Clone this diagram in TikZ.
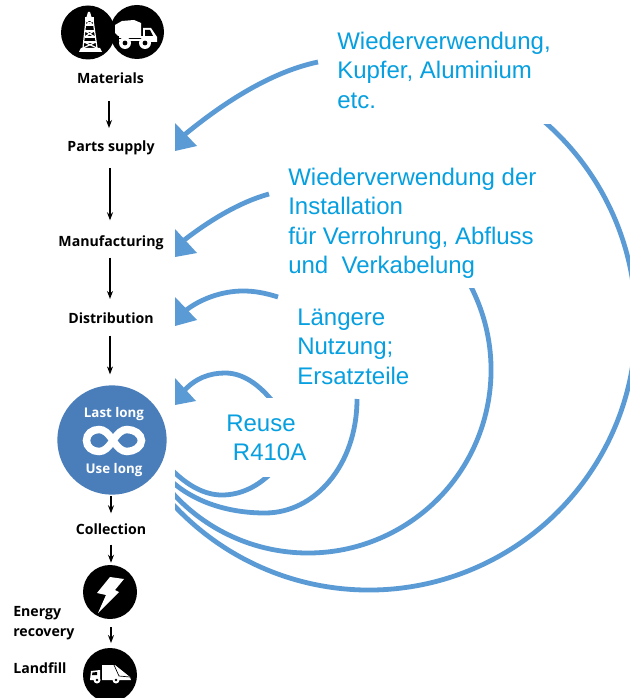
\documentclass[tikz,border=0pt]{standalone}
\usepackage{fontspec}
\setmainfont{Liberation Sans}
\newfontfamily\lab{Open Sans}
\usetikzlibrary{arrows.meta}
\definecolor{arcblue}{HTML}{5B9BD5}
\definecolor{txtblue}{HTML}{069FE0}
\definecolor{discblue}{HTML}{4A7EBB}
\tikzset{
 x=0.75pt,y=-0.75pt,
 step label/.style={font=\lab\bfseries\fontsize{10.6}{15}\selectfont,text=black,inner sep=0pt,align=left},
 disc label/.style={font=\lab\bfseries\fontsize{10}{12}\selectfont,text=white,inner sep=0pt},
 flowarrow/.style={draw=black,line width=0.9pt,-{Stealth[length=6pt,width=4.5pt]}},
 bluetext/.style={font=\fontsize{18}{21.9}\selectfont,text=txtblue,inner sep=0pt,align=left,anchor=north west},
 arcline/.style={draw=arcblue,line width=3.6pt},
 arrowtip/.style={fill=arcblue},
 discblack/.style={fill=black},
}
\begin{document}
\begin{tikzpicture}
\useasboundingbox (0,0) rectangle (630,698);
\fill[white] (0,0) rectangle (630,698);
% blue return arcs
\begin{scope}
\clip (175,0) rectangle (630,698);
\coordinate (a1s) at (318,62);
\coordinate (a1e) at (183,136);
\draw[arcline] (a1s) .. controls (280,70) and (235,93) .. (a1e);
\coordinate (a2s) at (269,194);
\coordinate (a2e) at (183,241);
\draw[arcline] (a2s) .. controls (240,202) and (210,220) .. (a2e);
\coordinate (a3s) at (278,297);
\coordinate (a3m) at (243,291);
\coordinate (a3e) at (185,311);
\draw[arcline] (a3s) .. controls (265,293) and (255,291) .. (a3m)
  .. controls (222,291) and (200,299) .. (a3e);
\coordinate (a4s) at (274,403);
\coordinate (a4m) at (225,373);
\coordinate (a4e) at (183,392);
\draw[arcline] (a4s) .. controls (258,383) and (242,373) .. (a4m)
  .. controls (210,373) and (195,378) .. (a4e);
\coordinate (b1s) at (540.6,118.5);
\draw[arcline] (b1s) arc[start angle=50,end angle=-142,radius=200.25pt];
\coordinate (b2s) at (466.5,278.5);
\draw[arcline] (b2s) arc[start angle=30,end angle=-142,radius=137.25pt];
\coordinate (b3s) at (357,399);
\coordinate (b3m) at (265,513);
\coordinate (b3e) at (170,480);
\draw[arcline] (b3s) .. controls (357,465) and (315,513) .. (b3m)
  .. controls (230,513) and (195,503) .. (b3e);
\coordinate (b4s) at (273,471);
\coordinate (b4m) at (222,495);
\coordinate (b4e) at (172,470);
\draw[arcline] (b4s) .. controls (258,487) and (240,495) .. (b4m)
  .. controls (205,495) and (188,486) .. (b4e);
\end{scope}
% square cuts at the ends of the arcs
\fill[white] (500,100) rectangle (560,124);
\fill[white] (440,265) rectangle (490,288);
\fill[white] (250,397.5) rectangle (290,415);
\fill[white] (255,460) rectangle (290,476.5);
% arrow heads
\fill[arrowtip] (175,123) -- (197,146) -- (175,151) -- cycle;
\fill[arrowtip] (175,229) -- (197,253) -- (175,257) -- cycle;
\fill[arrowtip] (175,297) -- (197,320) -- (175,326) -- cycle;
\fill[arrowtip] (175,378) -- (196,401) -- (175,405) -- cycle;
% blue texts
\node[bluetext] (t1) at (337,32) {Wiederverwendung,\\Kupfer, Aluminium\\etc.};
\node[bluetext] (t2) at (288,168) {Wiederverwendung der\\Installation\\für Verrohrung, Abfluss\\und\ \ Verkabelung};
\node[bluetext] (t3) at (297,309) {Längere\\Nutzung;\\Ersatzteile};
\node[bluetext] (t4) at (226,415) {Reuse\\\ R410A};
% left chain
\node[step label] (materials) at (110.5,78) {Materials};
\node[step label] (parts) at (111,148) {Parts supply};
\node[step label] (manu) at (111,243) {Manufacturing};
\node[step label] (distr) at (111,318) {Distribution};
\node[circle,fill=discblue,minimum size=82pt,inner sep=0pt] (use) at (112,440) {};
\node[disc label] (last) at (114,414.5) {Last long};
\node[disc label] (uselong) at (114,470) {Use long};
\draw[white,line width=5.6pt] (113,440.5) .. controls (108,433) and (104,429.5) .. (99,429.5)
  .. controls (92,429.5) and (86.5,434) .. (86.5,440.5)
  .. controls (86.5,447) and (92,451.5) .. (99,451.5)
  .. controls (104,451.5) and (108,448) .. (113,440.5)
  .. controls (118,433) and (122,429.5) .. (127,429.5)
  .. controls (134,429.5) and (141.5,434) .. (141.5,440.5)
  .. controls (141.5,447) and (134,451.5) .. (127,451.5)
  .. controls (122,451.5) and (118,448) .. (113,440.5) -- cycle;
\node[step label] (coll) at (111,529) {Collection};
\node[circle,discblack,minimum size=40.5pt,inner sep=0pt] (energy) at (110,592) {};
\node[circle,discblack,minimum size=40.5pt,inner sep=0pt] (land) at (110,675) {};
\node[step label,anchor=west] (enlab) at (13,623) {Energy\\recovery};
\node[step label,anchor=west] (lflab) at (13,668) {Landfill};
% flow arrows
\draw[flowarrow,shorten <=13pt,shorten >=9.5pt] (materials.south -| 109,0) -- (parts.north -| 109,0);
\draw[flowarrow,shorten <=9.5pt,shorten >=11.5pt] (parts.south -| 110,0) -- (manu.north -| 110,0);
\draw[flowarrow,shorten <=5.5pt,shorten >=10pt] (manu.south -| 110,0) -- (distr.north -| 110,0);
\draw[flowarrow,shorten <=9pt,shorten >=8pt] (distr.south -| 110,0) -- (use.north -| 110,0);
\draw[flowarrow,shorten <=1pt,shorten >=7.5pt] (use.south -| 111,0) -- (coll.north -| 111,0);
\draw[flowarrow,shorten <=7.5pt,shorten >=1.5pt] (coll.south -| 111,0) -- (energy.north -| 111,0);
\draw[flowarrow,shorten <=6pt,shorten >=3.5pt] (energy.south -| 111,0) -- (land.north -| 111,0);
% raw material discs
\node[circle,discblack,minimum size=40.5pt,inner sep=0pt] (rig) at (88,32.5) {};
\node[circle,discblack,minimum size=40.5pt,inner sep=0pt] (mine) at (137,32) {};
% derrick
\begin{scope}[white,line width=0.9pt]
\fill (79,52) -- (81,48) -- (100,48) -- (102,52) -- cycle;
\draw (83,48) -- (86,20) -- (93,20) -- (97,48);
\fill (85,17) rectangle (94,21);
\fill (88,12) -- (90,12) -- (91.5,17) -- (86.5,17) -- cycle;
\draw (85.5,25) -- (93.5,25) (85,31) -- (94,31) (84.5,37) -- (95,37) (84,42) -- (96,42);
\draw (86,21) -- (93.5,25) (93,21) -- (85.5,25) (85,31) -- (95,37) (94,31) -- (84.5,37) (84,42) -- (97,48) (96,42) -- (83,48);
\end{scope}
% dump truck
\fill[white] (115,25) -- (122,21) -- (134,20) -- (141,23) -- (141,36) -- (118,36) -- (115,33) -- cycle;
\fill[white] (143,28) -- (151,28) -- (157,37) -- (157,42) -- (143,42) -- cycle;
\fill[white] (119,36) rectangle (145,41);
\fill[black] (145,30) -- (150,30) -- (153,36) -- (145,36) -- cycle;
\fill[black] (117,38) rectangle (142,39);
\fill[white] (125,43) circle (6);
\fill[white] (145,43) circle (6);
\fill[black] (125,43) circle (2.4);
\fill[black] (145,43) circle (2.4);
% lightning bolt
\fill[white] (110,577) -- (124,579) -- (115,590) -- (119,592) -- (98,613) -- (106,595) -- (97,593) -- cycle;
% garbage truck
\fill[white] (102,665) -- (115,665) -- (130,677) -- (131,680) -- (102,680) -- cycle;
\fill[white] (90,680) -- (91,671) -- (100,670) -- (100,680) -- cycle;
\fill[black] (92.5,672.5) -- (97,672) -- (97,675) -- (92,675) -- cycle;
\draw[black,line width=0.5pt] (114,665) -- (119,676) -- (130,677);
\fill[white] (97,680) circle (3.5);
\fill[white] (116,680) circle (3.5);
\fill[black] (97,680) circle (1.4);
\fill[black] (116,680) circle (1.4);
\end{tikzpicture}
\end{document}
